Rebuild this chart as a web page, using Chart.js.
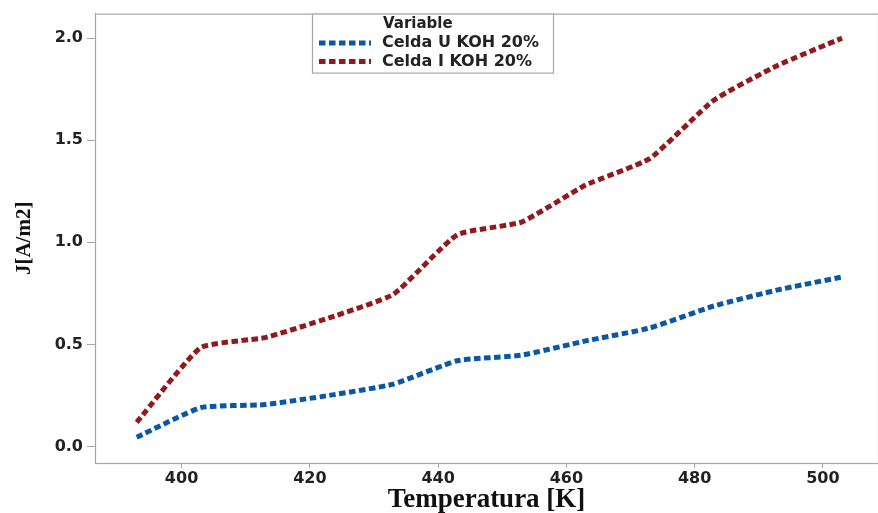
<!DOCTYPE html>
<html>
<head>
<meta charset="utf-8">
<script src="https://cdn.jsdelivr.net/npm/chart.js@4"></script>
<style>
  html, body { margin: 0; padding: 0; background: #fff; }
  #wrap { width: 878px; height: 513px; position: relative; }
</style>
</head>
<body>
<div id="wrap"><canvas id="chart"></canvas></div>
<script>
// ---- data ----
const temperatures = [393, 403, 413, 423, 433, 443, 453, 463, 473, 483, 493, 503];
const celdaU = [0.045, 0.19, 0.205, 0.25, 0.305, 0.42, 0.447, 0.517, 0.58, 0.688, 0.767, 0.83];
const celdaI = [0.118, 0.484, 0.533, 0.63, 0.745, 1.037, 1.099, 1.28, 1.41, 1.696, 1.867, 2.0];
const seriesLabels = ['Celda U KOH 20%', 'Celda I KOH 20%'];
const xTicks = [400, 420, 440, 460, 480, 500];
const yTicks = [0.0, 0.5, 1.0, 1.5, 2.0];

const BLUE = '#0a57a6';
const RED = '#931a1c';
const FRAME = '#a6a6a6';
const SANS = '"DejaVu Sans", Verdana, sans-serif';
const SERIF = '"Liberation Serif", "Times New Roman", serif';

// legend box inside the plot, top centre (Minitab style)
const legendBox = {
    id: 'legendBox',
    afterDraw(chart) {
        const ctx = chart.ctx;
        const x0 = 312, y0 = chart.chartArea.top, w = 241, h = 59;
        ctx.save();
        ctx.fillStyle = '#fff';
        ctx.fillRect(x0, y0, w, h);
        ctx.strokeStyle = FRAME;
        ctx.lineWidth = 1.2;
        ctx.strokeRect(x0 + 0.5, y0 + 0.5, w, h);
        ctx.fillStyle = '#222';
        ctx.textBaseline = 'middle';
        ctx.font = 'bold 15px ' + SANS;
        ctx.fillText('Variable', 383, y0 + 10.5);
        ctx.font = 'bold 16px ' + SANS;
        chart.data.datasets.forEach((ds, i) => {
            const yy = y0 + 29.5 + i * 18.5;
            ctx.strokeStyle = ds.borderColor;
            ctx.lineWidth = 5;
            ctx.setLineDash([6.5, 3.5]);
            ctx.beginPath();
            ctx.moveTo(319, yy);
            ctx.lineTo(371, yy);
            ctx.stroke();
            ctx.setLineDash([]);
            ctx.fillStyle = '#222';
            ctx.fillText(ds.label, 382, yy);
        });
        ctx.restore();
    }
};

// full rectangle around the plot area
const frame = {
    id: 'frame',
    beforeDatasetsDraw(chart) {
        const a = chart.chartArea, ctx = chart.ctx;
        ctx.save();
        ctx.strokeStyle = FRAME;
        ctx.lineWidth = 1.2;
        ctx.strokeRect(a.left + 0.5, a.top + 0.5, a.right - a.left, a.bottom - a.top);
        ctx.restore();
    }
};

const tickFont = { family: SANS, size: 16, weight: 'bold' };

new Chart(document.getElementById('chart').getContext('2d'), {
    type: 'line',
    data: {
        labels: temperatures,
        datasets: [
            {
                label: seriesLabels[0],
                data: temperatures.map((t, i) => ({ x: t, y: celdaU[i] })),
                borderColor: BLUE,
                borderWidth: 5,
                borderDash: [6.5, 3.5],
                pointRadius: 0,
                tension: 0.15,
                fill: false
            },
            {
                label: seriesLabels[1],
                data: temperatures.map((t, i) => ({ x: t, y: celdaI[i] })),
                borderColor: RED,
                borderWidth: 5,
                borderDash: [6.5, 3.5],
                pointRadius: 0,
                tension: 0.15,
                fill: false
            }
        ]
    },
    options: {
        responsive: true,
        maintainAspectRatio: false,
        animation: false,
        layout: { padding: { left: 0, top: 9, right: 0, bottom: 0 } },
        plugins: {
            legend: { display: false },
            tooltip: { enabled: false }
        },
        scales: {
            x: {
                type: 'linear',
                min: 386.5,
                max: 508.6,
                afterBuildTicks: (s) => { s.ticks = xTicks.map(v => ({ value: v })); },
                afterFit: (s) => { s.height = 50; },
                grid: { drawOnChartArea: false, drawTicks: true, tickLength: 5, color: FRAME },
                border: { color: FRAME },
                ticks: { color: '#222', font: tickFont, padding: 1, maxRotation: 0 },
                title: {
                    display: true,
                    text: 'Temperatura [K]',
                    color: '#111',
                    font: { family: SERIF, size: 27, weight: 'bold' },
                    padding: { top: 0, bottom: -3 }
                }
            },
            y: {
                min: -0.081,
                max: 2.12,
                afterBuildTicks: (s) => { s.ticks = yTicks.map(v => ({ value: v })); },
                afterFit: (s) => { s.width = 95; },
                grid: { drawOnChartArea: false, drawTicks: true, tickLength: 8, color: FRAME },
                border: { color: FRAME },
                ticks: { color: '#222', font: tickFont, padding: 4, callback: (v) => Number(v).toFixed(1) },
                title: {
                    display: true,
                    text: 'J[A/m2]',
                    color: '#111',
                    font: { family: SERIF, size: 21, weight: 'bold' },
                    padding: { top: 12, bottom: 0 }
                }
            }
        }
    },
    plugins: [frame, legendBox]
});
</script>
</body>
</html>
